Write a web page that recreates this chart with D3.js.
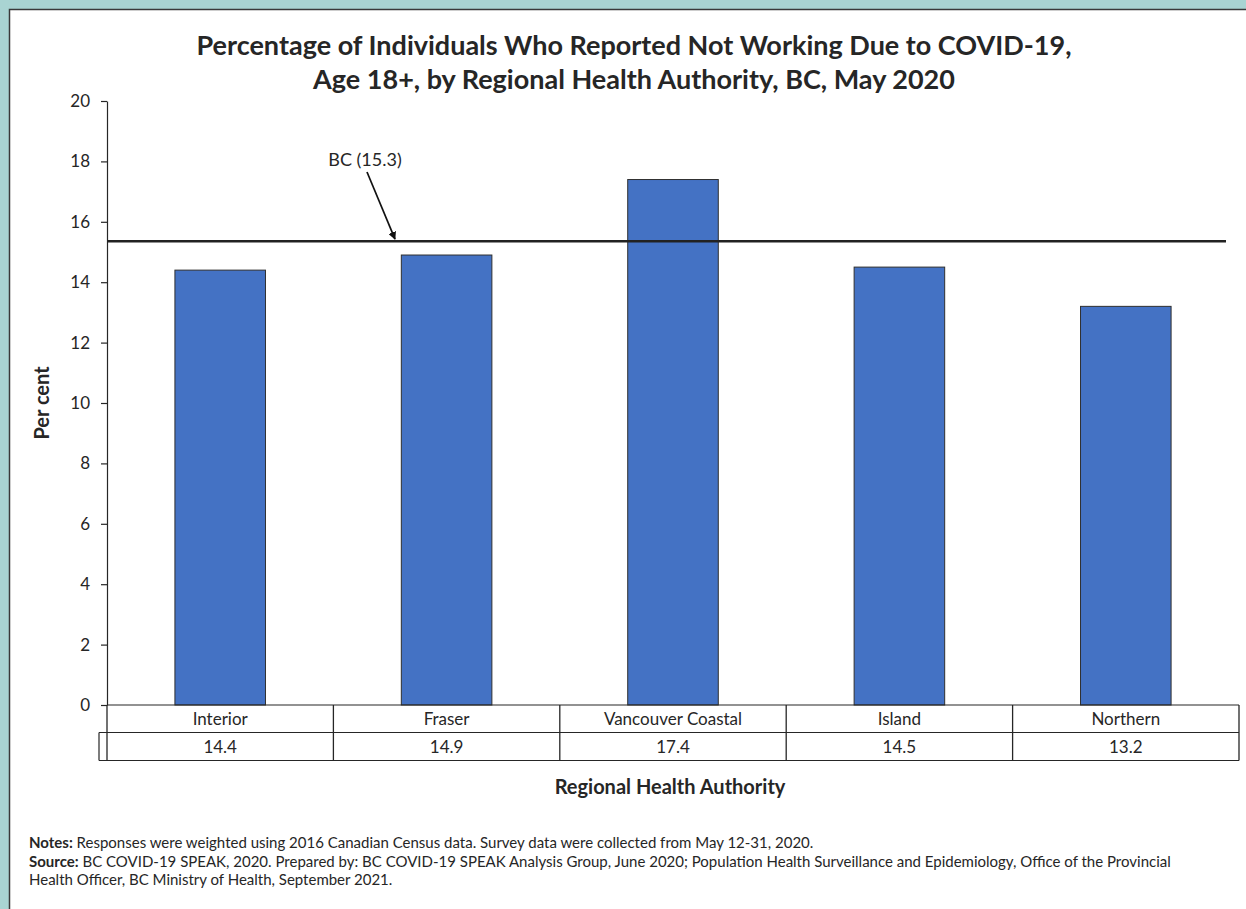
<!DOCTYPE html>
<html>
<head>
<meta charset="utf-8">
<script src="https://cdn.jsdelivr.net/npm/d3@7"></script>
<style>
  html, body { margin: 0; padding: 0; background: #a9d4d2; }
  svg { display: block; }
  text { font-family: Lato, "Open Sans", sans-serif; fill: #262626; }
</style>
</head>
<body>
<script>
const categories = ["Interior", "Fraser", "Vancouver Coastal", "Island", "Northern"];
const values = [14.4, 14.9, 17.4, 14.5, 13.2];
const bcValue = 15.3;
const bcLineValue = 15.36;
const yTicks = [0, 2, 4, 6, 8, 10, 12, 14, 16, 18, 20];
const titleLines = ["Percentage of Individuals Who Reported Not Working Due to COVID-19,",
                    "Age 18+, by Regional Health Authority, BC, May 2020"];

const W = 1246, H = 909;
const svg = d3.select("body").append("svg").attr("width", W).attr("height", H);

// background panel
svg.append("rect").attr("x", 0).attr("y", 0).attr("width", W).attr("height", H).attr("fill", "#a9d4d2");
svg.append("rect").attr("x", 9.5).attr("y", 9.5).attr("width", W + 10).attr("height", H + 10)
  .attr("fill", "#ffffff").attr("stroke", "#3a3a3a").attr("stroke-width", 1.5);

// title
svg.append("text").attr("x", 634).attr("y", 55).attr("text-anchor", "middle")
  .attr("font-size", 27).attr("font-weight", "bold").text(titleLines[0]);
svg.append("text").attr("x", 634).attr("y", 89).attr("text-anchor", "middle")
  .attr("font-size", 27).attr("font-weight", "bold").text(titleLines[1]);

const x0 = 107, x1 = 1239;
const x = d3.scaleBand().domain(categories).range([x0, x1]).paddingInner(0).paddingOuter(0);
const y = d3.scaleLinear().domain([0, 20]).range([705, 101]);

// y axis
const yAxis = d3.axisLeft(y).tickValues(yTicks).tickSize(6).tickPadding(11).tickSizeOuter(0);
const ga = svg.append("g").attr("transform", `translate(${x0},0)`).call(yAxis);
ga.select(".domain").attr("stroke", "#262626").attr("stroke-width", 1.2);
ga.selectAll(".tick line").attr("stroke", "#262626").attr("stroke-width", 1.2);
ga.selectAll(".tick text").attr("font-size", 17).attr("font-family", "Lato, sans-serif").attr("fill", "#262626");

// bars
const bw = x.bandwidth() * 0.4;
svg.append("g").selectAll("rect").data(categories).join("rect")
  .attr("x", (d) => x(d) + (x.bandwidth() - bw) / 2)
  .attr("y", (d, i) => y(values[i]))
  .attr("width", bw)
  .attr("height", (d, i) => y(0) - y(values[i]))
  .attr("fill", "#4472c4").attr("stroke", "#2f2f2f").attr("stroke-width", 1);

// BC line
svg.append("line").attr("x1", x0).attr("x2", 1226).attr("y1", y(bcLineValue)).attr("y2", y(bcLineValue))
  .attr("stroke", "#222").attr("stroke-width", 2.5);

// annotation
svg.append("defs").append("marker").attr("id", "arr").attr("viewBox", "0 0 10 10")
  .attr("refX", 9).attr("refY", 5).attr("markerWidth", 8).attr("markerHeight", 8)
  .attr("orient", "auto").attr("markerUnits", "userSpaceOnUse")
  .append("path").attr("d", "M0,0 L10,5 L0,10 z").attr("fill", "#111");
svg.append("line").attr("x1", 367).attr("y1", 172).attr("x2", 395).attr("y2", y(bcLineValue) - 2)
  .attr("stroke", "#111").attr("stroke-width", 1.7).attr("marker-end", "url(#arr)");
svg.append("text").attr("x", 365).attr("y", 166).attr("text-anchor", "middle")
  .attr("font-size", 18).text(`BC (${bcValue})`);

// data table
const rowTop = 705, rowMid = 732.5, rowBot = 760.5;
const tbl = svg.append("g");
tbl.append("line").attr("x1", x0).attr("x2", x1).attr("y1", rowTop).attr("y2", rowTop).attr("stroke", "#262626").attr("stroke-width", 1.2);
tbl.append("line").attr("x1", 99).attr("x2", x1).attr("y1", rowMid).attr("y2", rowMid).attr("stroke", "#262626").attr("stroke-width", 1.2);
tbl.append("line").attr("x1", 99).attr("x2", x1).attr("y1", rowBot).attr("y2", rowBot).attr("stroke", "#262626").attr("stroke-width", 1.2);
tbl.append("line").attr("x1", 99).attr("x2", 99).attr("y1", rowMid).attr("y2", rowBot).attr("stroke", "#262626").attr("stroke-width", 1.2);
const bounds = categories.map((d) => x(d)).concat([x1]);
tbl.selectAll("line.v").data(bounds).join("line").attr("class", "v")
  .attr("x1", (d) => d).attr("x2", (d) => d).attr("y1", rowTop).attr("y2", rowBot)
  .attr("stroke", "#262626").attr("stroke-width", 1.3);
tbl.selectAll("text.cat").data(categories).join("text").attr("class", "cat")
  .attr("x", (d) => x(d) + x.bandwidth() / 2).attr("y", 725).attr("text-anchor", "middle")
  .attr("font-size", 17).text((d) => d);
tbl.selectAll("text.val").data(categories).join("text").attr("class", "val")
  .attr("x", (d) => x(d) + x.bandwidth() / 2).attr("y", 753).attr("text-anchor", "middle")
  .attr("font-size", 17).text((d, i) => values[i].toFixed(1));

// axis titles
svg.append("text").attr("x", 670).attr("y", 794).attr("text-anchor", "middle")
  .attr("font-size", 20).attr("font-weight", "bold").text("Regional Health Authority");
svg.append("text").attr("transform", "translate(49,403) rotate(-90)").attr("text-anchor", "middle")
  .attr("font-size", 20).attr("font-weight", "bold").text("Per cent");

// notes
const notes = svg.append("g").attr("font-size", 15);
const n1 = notes.append("text").attr("x", 29).attr("y", 848);
n1.append("tspan").attr("font-weight", "bold").text("Notes:");
n1.append("tspan").text(" Responses were weighted using 2016 Canadian Census data. Survey data were collected from May 12-31, 2020.");
const n2 = notes.append("text").attr("x", 29).attr("y", 867);
n2.append("tspan").attr("font-weight", "bold").text("Source:");
n2.append("tspan").text(" BC COVID-19 SPEAK, 2020. Prepared by: BC COVID-19 SPEAK Analysis Group, June 2020; Population Health Surveillance and Epidemiology, Office of the Provincial");
notes.append("text").attr("x", 29).attr("y", 885).text("Health Officer, BC Ministry of Health, September 2021.");
</script>
</body>
</html>
